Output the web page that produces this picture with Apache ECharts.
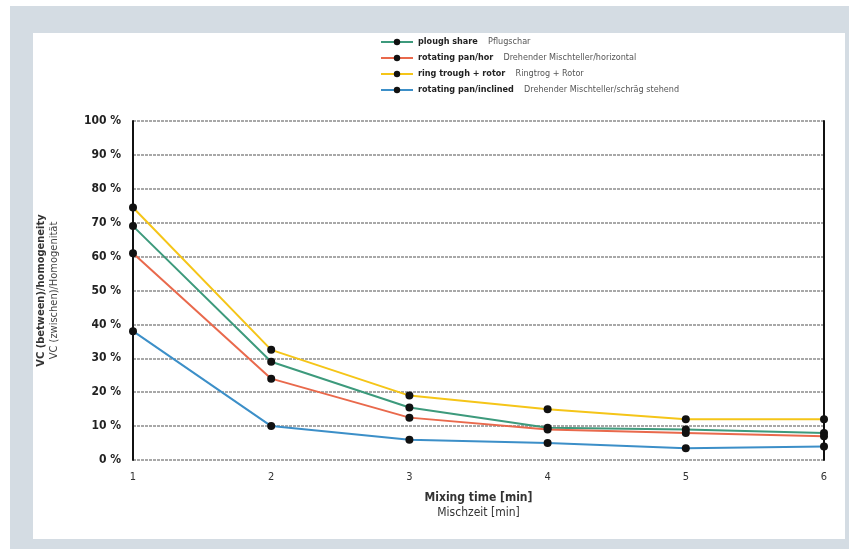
<!DOCTYPE html>
<html><head><meta charset="utf-8">
<script src="https://cdn.jsdelivr.net/npm/echarts@6/dist/echarts.min.js"></script>
<style>html,body{margin:0;padding:0;background:#fff;}#c{width:849px;height:549px;}</style>
</head><body><div id="c"></div>
<script>
const categories = ['1','2','3','4','5','6'];
const ploughShare = [69, 29, 15.5, 9.5, 9, 8];
const rotatingPanHor = [61, 24, 12.5, 9, 8, 7];
const ringTroughRotor = [74.5, 32.5, 19, 15, 12, 12];
const rotatingPanInclined = [38, 10, 6, 5, 3.5, 4];
const seriesNamesEn = ['plough share','rotating pan/hor','ring trough + rotor','rotating pan/inclined'];
const seriesNamesDe = ['Pflugschar','Drehender Mischteller/horizontal','Ringtrog + Rotor','Drehender Mischteller/schräg stehend'];
const colors = ['#3d9a7c','#e9694c','#f5c518','#3c8fc8'];
const FONT = '"DejaVu Sans Condensed", "Liberation Sans Narrow", "Roboto", sans-serif';

const dataSets = [ploughShare, rotatingPanHor, ringTroughRotor, rotatingPanInclined];
const deMap = {};
seriesNamesEn.forEach((n,i)=>deMap[n]=seriesNamesDe[i]);

const chart = echarts.init(document.getElementById('c'));
chart.setOption({
  animation:false,
  textStyle:{fontFamily:FONT},
  graphic:[
    {type:'rect', z:-10, shape:{x:10,y:6,width:839,height:543}, style:{fill:'#d4dce3'}},
    {type:'rect', z:-9, shape:{x:33,y:33,width:812,height:506}, style:{fill:'#ffffff'}}
  ],
  grid:{left:133, right:25, top:121, bottom:89},
  legend:{
    orient:'vertical', left:375, top:31, itemGap:4, itemWidth:32, itemHeight:8,
    data:seriesNamesEn,
    formatter:n=>'{b|'+n+'}   {n|'+deMap[n]+'}',
    textStyle:{rich:{
      b:{fontFamily:FONT,fontWeight:'bold',fontSize:9,color:'#222'},
      n:{fontFamily:FONT,fontSize:9,color:'#555'}
    }}
  },
  xAxis:{
    type:'category', data:categories, boundaryGap:false,
    axisLine:{show:false}, axisTick:{show:false},
    axisLabel:{color:'#333', fontSize:11, margin:12, fontFamily:FONT},
    name:'{b|Mixing time [min]}\n{n|Mischzeit [min]}',
    nameLocation:'middle', nameGap:30,
    nameTextStyle:{lineHeight:15, rich:{
      b:{fontFamily:FONT,fontWeight:'bold',fontSize:12,color:'#333',lineHeight:15},
      n:{fontFamily:FONT,fontSize:12,color:'#333',lineHeight:15}
    }}
  },
  yAxis:[{
    type:'value', min:0, max:100, interval:10,
    axisLine:{show:true, lineStyle:{color:'#111', width:2}},
    axisTick:{show:false},
    axisLabel:{formatter:'{value} %', color:'#222', fontWeight:'bold', fontSize:12, margin:12, fontFamily:FONT},
    splitLine:{show:true, lineStyle:{color:'#a8a8a8', width:2, type:[3,1]}},
    name:'{b|VC (between)/homogeneity}\n{n|VC (zwischen)/Homogenität}',
    nameLocation:'middle', nameRotate:90, nameGap:72,
    nameTextStyle:{lineHeight:13, rich:{
      b:{fontFamily:FONT,fontWeight:'bold',fontSize:11,color:'#333',lineHeight:13},
      n:{fontFamily:FONT,fontSize:11,color:'#444',lineHeight:13}
    }}
  },{
    type:'value', min:0, max:100, interval:10, position:'right',
    axisLine:{show:true, lineStyle:{color:'#111', width:2}},
    axisTick:{show:false}, axisLabel:{show:false}, splitLine:{show:false}
  }],
  series: dataSets.map((d,i)=>({
    name:seriesNamesEn[i], type:'line', data:d,
    symbol:'circle', symbolSize:8,
    itemStyle:{color:'#111'},
    lineStyle:{color:colors[i], width:2},
    z: 3
  }))
});
</script></body></html>
